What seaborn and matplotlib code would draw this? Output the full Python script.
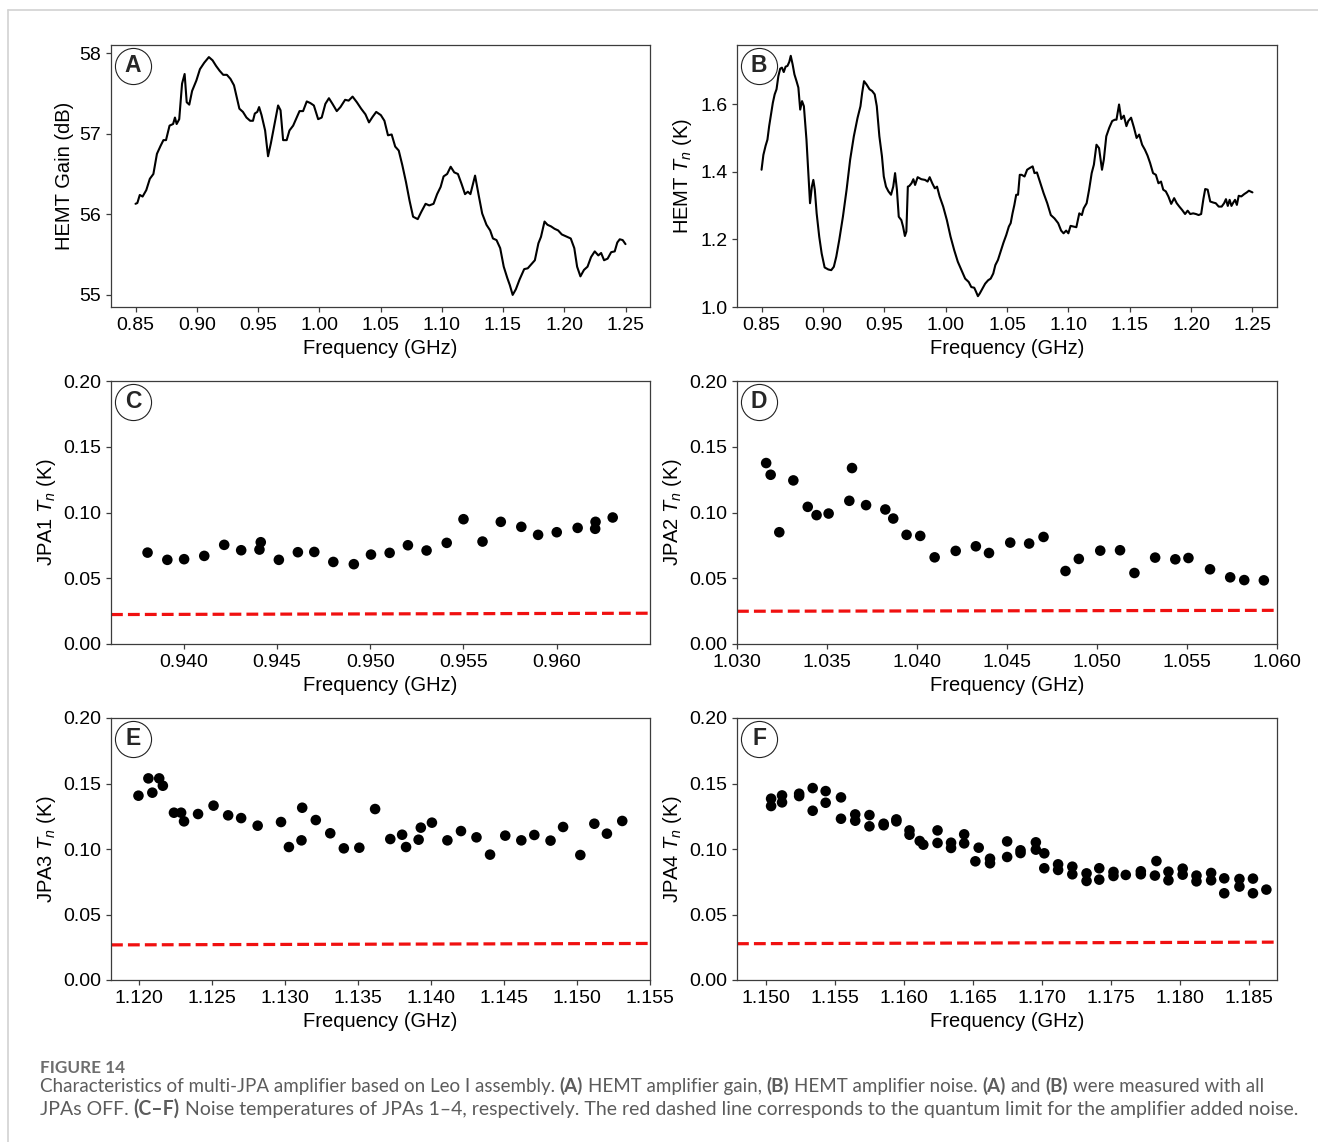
import matplotlib
matplotlib.use("Agg")
import matplotlib.pyplot as plt
import seaborn as sns
import numpy as np
from matplotlib.lines import Line2D
from matplotlib.transforms import IdentityTransform
from matplotlib.ticker import FormatStrFormatter

# ---------------------------------------------------------------- data
# (A) HEMT gain versus frequency
gain_freq = [0.8500, 0.8515, 0.8535, 0.8558, 0.8588, 0.8617, 0.8646, 0.8675, 0.8705, 0.8728,
             0.8749, 0.8778, 0.8807, 0.8822, 0.8836, 0.8857, 0.8880, 0.8901, 0.8918, 0.8939,
             0.8962, 0.8997, 0.9026, 0.9061, 0.9099, 0.9129, 0.9158, 0.9187, 0.9216, 0.9246,
             0.9275, 0.9304, 0.9348, 0.9377, 0.9406, 0.9436, 0.9459, 0.9474, 0.9494, 0.9509,
             0.9529, 0.9558, 0.9582, 0.9605, 0.9635, 0.9664, 0.9684, 0.9705, 0.9734, 0.9757,
             0.9787, 0.9816, 0.9839, 0.9868, 0.9898, 0.9927, 0.9956, 0.9991, 1.0020, 1.0050,
             1.0079, 1.0108, 1.0143, 1.0173, 1.0211, 1.0240, 1.0272, 1.0307, 1.0342, 1.0377,
             1.0406, 1.0436, 1.0465, 1.0503, 1.0532, 1.0561, 1.0591, 1.0620, 1.0649, 1.0678,
             1.0708, 1.0737, 1.0766, 1.0804, 1.0833, 1.0868, 1.0898, 1.0933, 1.0962, 1.0991,
             1.1015, 1.1044, 1.1073, 1.1102, 1.1132, 1.1161, 1.1190, 1.1213, 1.1234, 1.1272,
             1.1301, 1.1330, 1.1365, 1.1395, 1.1418, 1.1447, 1.1477, 1.1506, 1.1535, 1.1556,
             1.1579, 1.1605, 1.1635, 1.1673, 1.1702, 1.1731, 1.1760, 1.1789, 1.1810, 1.1839,
             1.1863, 1.1892, 1.1921, 1.1950, 1.1980, 1.2009, 1.2053, 1.2082, 1.2105, 1.2132,
             1.2161, 1.2190, 1.2219, 1.2249, 1.2278, 1.2301, 1.2325, 1.2354, 1.2383, 1.2412,
             1.2433, 1.2453, 1.2477, 1.2500]
gain_db = [56.13, 56.14, 56.24, 56.22, 56.30, 56.44, 56.50, 56.75, 56.85, 56.92,
           56.92, 57.10, 57.12, 57.20, 57.12, 57.18, 57.62, 57.74, 57.39, 57.36,
           57.53, 57.66, 57.80, 57.88, 57.95, 57.91, 57.84, 57.78, 57.73, 57.73,
           57.68, 57.60, 57.31, 57.27, 57.20, 57.16, 57.16, 57.25, 57.27, 57.33,
           57.23, 57.04, 56.72, 56.88, 57.12, 57.35, 57.29, 56.92, 56.92, 57.04,
           57.10, 57.20, 57.28, 57.28, 57.40, 57.38, 57.35, 57.18, 57.20, 57.37,
           57.44, 57.37, 57.28, 57.33, 57.42, 57.41, 57.46, 57.39, 57.31, 57.24,
           57.14, 57.21, 57.27, 57.23, 57.16, 56.98, 56.99, 56.84, 56.79, 56.61,
           56.40, 56.17, 55.97, 55.94, 56.03, 56.13, 56.11, 56.13, 56.25, 56.34,
           56.47, 56.50, 56.59, 56.52, 56.50, 56.38, 56.25, 56.28, 56.25, 56.48,
           56.24, 56.01, 55.87, 55.80, 55.70, 55.68, 55.58, 55.35, 55.21, 55.12,
           55.00, 55.07, 55.19, 55.32, 55.33, 55.38, 55.43, 55.64, 55.72, 55.91,
           55.87, 55.85, 55.82, 55.80, 55.75, 55.73, 55.70, 55.58, 55.35, 55.23,
           55.31, 55.35, 55.47, 55.54, 55.49, 55.52, 55.43, 55.45, 55.53, 55.54,
           55.65, 55.69, 55.68, 55.63]

# (B) HEMT noise temperature versus frequency
hemt_freq = [0.8500, 0.8515, 0.8533, 0.8548, 0.8562, 0.8577, 0.8592, 0.8607, 0.8622, 0.8637,
             0.8652, 0.8666, 0.8681, 0.8696, 0.8711, 0.8726, 0.8738, 0.8753, 0.8768, 0.8785,
             0.8800, 0.8815, 0.8830, 0.8845, 0.8866, 0.8881, 0.8895, 0.8910, 0.8922, 0.8934,
             0.8949, 0.8970, 0.8990, 0.9014, 0.9044, 0.9068, 0.9089, 0.9109, 0.9133, 0.9163,
             0.9193, 0.9222, 0.9252, 0.9282, 0.9306, 0.9320, 0.9335, 0.9356, 0.9380, 0.9401,
             0.9422, 0.9439, 0.9460, 0.9481, 0.9496, 0.9514, 0.9534, 0.9555, 0.9573, 0.9588,
             0.9603, 0.9618, 0.9639, 0.9653, 0.9668, 0.9680, 0.9692, 0.9704, 0.9722, 0.9737,
             0.9751, 0.9772, 0.9802, 0.9832, 0.9853, 0.9870, 0.9891, 0.9912, 0.9930, 0.9951,
             0.9980, 1.0010, 1.0040, 1.0070, 1.0099, 1.0129, 1.0159, 1.0188, 1.0209, 1.0233,
             1.0248, 1.0263, 1.0278, 1.0299, 1.0322, 1.0346, 1.0367, 1.0388, 1.0405, 1.0426,
             1.0447, 1.0471, 1.0494, 1.0515, 1.0530, 1.0545, 1.0560, 1.0575, 1.0590, 1.0604,
             1.0619, 1.0643, 1.0664, 1.0685, 1.0709, 1.0724, 1.0744, 1.0768, 1.0798, 1.0828,
             1.0857, 1.0887, 1.0917, 1.0941, 1.0961, 1.0982, 1.1000, 1.1018, 1.1042, 1.1065,
             1.1089, 1.1110, 1.1125, 1.1149, 1.1169, 1.1190, 1.1208, 1.1229, 1.1250, 1.1274,
             1.1289, 1.1309, 1.1333, 1.1357, 1.1378, 1.1392, 1.1413, 1.1431, 1.1452, 1.1473,
             1.1488, 1.1511, 1.1535, 1.1556, 1.1577, 1.1601, 1.1624, 1.1645, 1.1666, 1.1690,
             1.1713, 1.1734, 1.1755, 1.1773, 1.1794, 1.1815, 1.1838, 1.1862, 1.1883, 1.1904,
             1.1927, 1.1951, 1.1972, 1.1993, 1.2017, 1.2040, 1.2061, 1.2082, 1.2100, 1.2115,
             1.2135, 1.2156, 1.2180, 1.2201, 1.2225, 1.2249, 1.2269, 1.2284, 1.2299, 1.2314,
             1.2329, 1.2344, 1.2358, 1.2373, 1.2388, 1.2409, 1.2433, 1.2454, 1.2471, 1.2500]
hemt_tn = [1.406, 1.450, 1.477, 1.495, 1.535, 1.569, 1.604, 1.629, 1.644, 1.683,
           1.705, 1.708, 1.695, 1.711, 1.713, 1.725, 1.743, 1.718, 1.688, 1.668,
           1.649, 1.584, 1.609, 1.594, 1.495, 1.396, 1.307, 1.356, 1.376, 1.347,
           1.277, 1.208, 1.158, 1.117, 1.111, 1.109, 1.119, 1.149, 1.198, 1.267,
           1.347, 1.436, 1.505, 1.559, 1.594, 1.634, 1.668, 1.658, 1.644, 1.639,
           1.629, 1.594, 1.505, 1.446, 1.386, 1.356, 1.342, 1.332, 1.356, 1.396,
           1.347, 1.267, 1.257, 1.238, 1.210, 1.223, 1.356, 1.358, 1.366, 1.378,
           1.361, 1.384, 1.378, 1.376, 1.371, 1.384, 1.366, 1.351, 1.356, 1.327,
           1.297, 1.257, 1.208, 1.168, 1.134, 1.109, 1.084, 1.074, 1.059, 1.057,
           1.045, 1.032, 1.040, 1.054, 1.069, 1.079, 1.084, 1.099, 1.124, 1.139,
           1.163, 1.190, 1.213, 1.238, 1.248, 1.277, 1.302, 1.332, 1.332, 1.391,
           1.391, 1.386, 1.406, 1.411, 1.416, 1.396, 1.398, 1.371, 1.337, 1.307,
           1.272, 1.262, 1.248, 1.226, 1.218, 1.226, 1.218, 1.240, 1.238, 1.236,
           1.277, 1.272, 1.292, 1.307, 1.347, 1.396, 1.421, 1.480, 1.470, 1.406,
           1.436, 1.505, 1.530, 1.550, 1.554, 1.554, 1.599, 1.556, 1.566, 1.535,
           1.550, 1.560, 1.530, 1.500, 1.510, 1.480, 1.465, 1.448, 1.426, 1.396,
           1.391, 1.366, 1.371, 1.347, 1.342, 1.327, 1.305, 1.322, 1.307, 1.297,
           1.287, 1.275, 1.285, 1.275, 1.277, 1.275, 1.272, 1.275, 1.319, 1.349,
           1.347, 1.312, 1.309, 1.307, 1.297, 1.297, 1.307, 1.319, 1.299, 1.317,
           1.299, 1.309, 1.317, 1.302, 1.329, 1.327, 1.334, 1.339, 1.344, 1.339]

# (C) JPA1 noise temperature
jpa1_freq = [0.93806, 0.93912, 0.94002, 0.94110, 0.94217, 0.94308, 0.94406, 0.94413, 0.94510, 0.94612,
             0.94700, 0.94802, 0.94912, 0.95004, 0.95104, 0.95202, 0.95302, 0.95410, 0.95500, 0.95602,
             0.95700, 0.95810, 0.95900, 0.96000, 0.96112, 0.96206, 0.96208, 0.96300]
jpa1_tn = [0.0695, 0.0640, 0.0645, 0.0670, 0.0754, 0.0713, 0.0718, 0.0774, 0.0640, 0.0698,
           0.0700, 0.0624, 0.0607, 0.0680, 0.0693, 0.0751, 0.0711, 0.0769, 0.0949, 0.0779,
           0.0929, 0.0891, 0.0830, 0.0850, 0.0883, 0.0876, 0.0929, 0.0962]

# (D) JPA2 noise temperature
jpa2_freq = [1.03162, 1.03187, 1.03235, 1.03313, 1.03393, 1.03442, 1.03509, 1.03624, 1.03639, 1.03717,
             1.03824, 1.03868, 1.03942, 1.04018, 1.04098, 1.04215, 1.04327, 1.04400, 1.04518, 1.04623,
             1.04703, 1.04825, 1.04899, 1.05018, 1.05128, 1.05208, 1.05323, 1.05435, 1.05508, 1.05628,
             1.05740, 1.05818, 1.05927]
jpa2_tn = [0.1376, 0.1287, 0.0850, 0.1244, 0.1043, 0.0980, 0.0992, 0.1089, 0.1338, 0.1056,
           0.1023, 0.0954, 0.0830, 0.0822, 0.0659, 0.0708, 0.0743, 0.0692, 0.0771, 0.0764,
           0.0814, 0.0555, 0.0647, 0.0710, 0.0713, 0.0540, 0.0657, 0.0644, 0.0654, 0.0568,
           0.0507, 0.0486, 0.0484]

# (E) JPA3 noise temperature
jpa3_freq = [1.11998, 1.12066, 1.12093, 1.12140, 1.12165, 1.12241, 1.12290, 1.12310, 1.12406, 1.12512,
             1.12612, 1.12701, 1.12814, 1.12974, 1.13028, 1.13114, 1.13119, 1.13212, 1.13311, 1.13404,
             1.13510, 1.13618, 1.13722, 1.13803, 1.13830, 1.13916, 1.13931, 1.14007, 1.14113, 1.14206,
             1.14312, 1.14405, 1.14509, 1.14619, 1.14708, 1.14819, 1.14905, 1.15023, 1.15119, 1.15205,
             1.15310]
jpa3_tn = [0.1407, 0.1539, 0.1430, 0.1539, 0.1483, 0.1277, 0.1277, 0.1211, 0.1267, 0.1331,
           0.1257, 0.1236, 0.1178, 0.1206, 0.1015, 0.1066, 0.1315, 0.1221, 0.1120, 0.1005,
           0.1010, 0.1305, 0.1076, 0.1109, 0.1015, 0.1071, 0.1163, 0.1201, 0.1066, 0.1137,
           0.1089, 0.0957, 0.1102, 0.1066, 0.1107, 0.1064, 0.1168, 0.0954, 0.1193, 0.1117,
           0.1214]

# (F) JPA4 noise temperature
jpa4_freq = [1.15037, 1.15037, 1.15116, 1.15116, 1.15240, 1.15240, 1.15338, 1.15338, 1.15432, 1.15432,
             1.15543, 1.15543, 1.15646, 1.15646, 1.15749, 1.15749, 1.15852, 1.15852, 1.15944, 1.15944,
             1.16039, 1.16039, 1.16113, 1.16139, 1.16242, 1.16242, 1.16340, 1.16340, 1.16435, 1.16435,
             1.16540, 1.16516, 1.16622, 1.16622, 1.16746, 1.16746, 1.16843, 1.16843, 1.16954, 1.16954,
             1.17015, 1.17015, 1.17115, 1.17115, 1.17218, 1.17218, 1.17321, 1.17321, 1.17413, 1.17413,
             1.17516, 1.17516, 1.17605, 1.17714, 1.17714, 1.17827, 1.17816, 1.17914, 1.17914, 1.18017,
             1.18017, 1.18117, 1.18117, 1.18223, 1.18223, 1.18318, 1.18318, 1.18428, 1.18428, 1.18526,
             1.18526, 1.18623]
jpa4_tn = [0.1384, 0.1328, 0.1409, 0.1356, 0.1422, 0.1404, 0.1465, 0.1292, 0.1442, 0.1353,
           0.1394, 0.1231, 0.1264, 0.1216, 0.1259, 0.1173, 0.1193, 0.1181, 0.1226, 0.1211,
           0.1142, 0.1109, 0.1061, 0.1033, 0.1142, 0.1046, 0.1048, 0.1008, 0.1112, 0.1043,
           0.1010, 0.0906, 0.0926, 0.0891, 0.1058, 0.0939, 0.0990, 0.0969, 0.1051, 0.0995,
           0.0967, 0.0853, 0.0883, 0.0840, 0.0865, 0.0807, 0.0814, 0.0756, 0.0853, 0.0766,
           0.0825, 0.0794, 0.0802, 0.0830, 0.0807, 0.0908, 0.0797, 0.0827, 0.0761, 0.0850,
           0.0804, 0.0797, 0.0753, 0.0817, 0.0761, 0.0776, 0.0662, 0.0771, 0.0713, 0.0774,
           0.0662, 0.0690]

# Quantum limit (red dashed) at the two ends of each frequency window
ql_c_freq, ql_c_tn = [0.9361, 0.9650], [0.0224, 0.0234]
ql_d_freq, ql_d_tn = [1.0300, 1.0600], [0.0249, 0.0256]
ql_e_freq, ql_e_tn = [1.1181, 1.1550], [0.0268, 0.0279]
ql_f_freq, ql_f_tn = [1.1479, 1.1870], [0.0277, 0.0289]

# Axis ticks
hemt_xticks = [0.85, 0.90, 0.95, 1.00, 1.05, 1.10, 1.15, 1.20, 1.25]
gain_yticks = [55, 56, 57, 58]
hemt_yticks = [1.0, 1.2, 1.4, 1.6]
jpa_yticks = [0.00, 0.05, 0.10, 0.15, 0.20]
jpa1_xticks = [0.940, 0.945, 0.950, 0.955, 0.960]
jpa2_xticks = [1.030, 1.035, 1.040, 1.045, 1.050, 1.055, 1.060]
jpa3_xticks = [1.120, 1.125, 1.130, 1.135, 1.140, 1.145, 1.150, 1.155]
jpa4_xticks = [1.150, 1.155, 1.160, 1.165, 1.170, 1.175, 1.180, 1.185]

# ---------------------------------------------------------------- style
sns.set_style("ticks")
plt.rcParams.update({
    "font.family": ["Liberation Sans", "DejaVu Sans"],
    "mathtext.fontset": "custom",
    "mathtext.rm": "Liberation Sans",
    "mathtext.it": "Liberation Sans:italic",
    "font.size": 14,
    "axes.labelsize": 14.5,
    "xtick.labelsize": 14,
    "ytick.labelsize": 14,
    "axes.edgecolor": "#3c3c3c",
    "axes.linewidth": 0.9,
    "xtick.color": "#3c3c3c",
    "ytick.color": "#3c3c3c",
    "xtick.labelcolor": "black",
    "ytick.labelcolor": "black",
    "xtick.major.size": 3.5,
    "ytick.major.size": 3.5,
    "xtick.major.width": 0.9,
    "ytick.major.width": 0.9,
    "axes.labelcolor": "black",
})

W, H = 1318, 1142
fig = plt.figure(figsize=(W / 100, H / 100), dpi=100)


def px_axes(left, top, right, bottom):
    return fig.add_axes([left / W, 1 - bottom / H, (right - left) / W, (bottom - top) / H])


ax_a = px_axes(111, 45, 650, 307)
ax_b = px_axes(737, 45, 1277, 307)
ax_c = px_axes(111, 381, 650, 644)
ax_d = px_axes(737, 381, 1277, 644)
ax_e = px_axes(111, 718, 650, 980)
ax_f = px_axes(737, 718, 1277, 980)


def panel_letter(ax, letter):
    ax.plot([0.0408], [0.921], marker="o", ms=26, mfc="white", mec="#222222",
            mew=0.8, transform=ax.transAxes, clip_on=False, zorder=5)
    ax.text(0.0408, 0.921, letter, transform=ax.transAxes, ha="center",
            va="center", fontsize=16.5, fontweight="bold", zorder=6)


def finish(ax, letter, ylabel, xticks, xfmt, yticks, yfmt, xlim, ylim):
    ax.set_xlim(*xlim)
    ax.set_ylim(*ylim)
    ax.set_xticks(xticks)
    ax.set_yticks(yticks)
    ax.xaxis.set_major_formatter(FormatStrFormatter(xfmt))
    ax.yaxis.set_major_formatter(FormatStrFormatter(yfmt))
    ax.set_xlabel("Frequency (GHz)")
    ax.set_ylabel(ylabel)
    for s in ax.spines.values():
        s.set_visible(True)
    panel_letter(ax, letter)


# (A) gain
sns.lineplot(x=gain_freq, y=gain_db, ax=ax_a, color="black", lw=1.5, estimator=None)
finish(ax_a, "A", "HEMT Gain (dB)", hemt_xticks, "%.2f", gain_yticks, "%d",
       (0.83, 1.27), (54.85, 58.10))

# (B) HEMT noise
sns.lineplot(x=hemt_freq, y=hemt_tn, ax=ax_b, color="black", lw=1.5, estimator=None)
finish(ax_b, "B", r"HEMT $T_n$ (K)", hemt_xticks, "%.2f", hemt_yticks, "%.1f",
       (0.83, 1.27), (1.0, 1.775))

# (C-F) JPA noise temperatures with the quantum limit
jpa_panels = [
    (ax_c, "C", "JPA1", jpa1_freq, jpa1_tn, ql_c_freq, ql_c_tn, jpa1_xticks, (0.9361, 0.9650)),
    (ax_d, "D", "JPA2", jpa2_freq, jpa2_tn, ql_d_freq, ql_d_tn, jpa2_xticks, (1.0300, 1.0600)),
    (ax_e, "E", "JPA3", jpa3_freq, jpa3_tn, ql_e_freq, ql_e_tn, jpa3_xticks, (1.1181, 1.1550)),
    (ax_f, "F", "JPA4", jpa4_freq, jpa4_tn, ql_f_freq, ql_f_tn, jpa4_xticks, (1.1479, 1.1870)),
]
for ax, letter, name, fq, tn, qf, qt, xt, xl in jpa_panels:
    sns.lineplot(x=qf, y=qt, ax=ax, color="#f01010", lw=2.3, linestyle="--",
                 estimator=None, zorder=2)
    sns.scatterplot(x=fq, y=tn, ax=ax, color="black", s=58, edgecolor="none",
                    linewidth=0, zorder=3)
    finish(ax, letter, name + r" $T_n$ (K)", xt, "%.3f", jpa_yticks, "%.2f",
           xl, (0.0, 0.2))

# ---------------------------------------------------------------- frame and caption
frame_col = "#d2d2d2"
fig.add_artist(Line2D([7.5 / W, 1.0], [1 - 9.5 / H, 1 - 9.5 / H], color=frame_col,
                      lw=1.2, transform=fig.transFigure))
fig.add_artist(Line2D([7.5 / W, 7.5 / W], [0.0, 1 - 9.5 / H], color=frame_col,
                      lw=1.2, transform=fig.transFigure))

cap_family = ["Lato", "DejaVu Sans"]
cap_color = "#5c5c5c"
renderer = fig.canvas.get_renderer()
ident = IdentityTransform()

line1 = [("Characteristics of multi-JPA amplifier based on Leo I assembly.", False),
         ("(A)", True), ("HEMT amplifier gain,", False), ("(B)", True),
         ("HEMT amplifier noise.", False), ("(A)", True), ("and", False), ("(B)", True),
         ("were measured with all", False)]
line2 = [("JPAs OFF.", False), ("(C\u2013F)", True),
         ("Noise temperatures of JPAs 1\u20134, respectively. The red dashed line corresponds "
          "to the quantum limit for the amplifier added noise.", False)]


def text_width(s, size, bold):
    t = fig.text(0, 0, s, fontsize=size, family=cap_family,
                 fontweight="bold" if bold else "normal", transform=ident)
    w = t.get_window_extent(renderer).width
    t.remove()
    return w


def line_width(parts, size):
    sp = text_width("x x", size, False) - text_width("xx", size, False)
    return sum(text_width(s, size, b) for s, b in parts) + sp * (len(parts) - 1)


def draw_line(parts, x0, y_top, size):
    sp = text_width("x x", size, False) - text_width("xx", size, False)
    x = x0
    for s, b in parts:
        t = fig.text(x, H - y_top, s, fontsize=size, family=cap_family, color=cap_color,
                     fontweight="bold" if b else "normal", transform=ident, va="baseline")
        x += t.get_window_extent(renderer).width + sp


size1 = 12.0 * 1217.0 / line_width(line1, 12.0)
size2 = 12.0 * 1257.0 / line_width(line2, 12.0)
draw_line(line1, 40, 1092, size1)
draw_line(line2, 40, 1115, size2)
fig.text(40, H - 1073, "FIGURE 14", fontsize=12.3, family=cap_family, color="#6e6e6e",
         fontweight="bold", transform=ident, va="baseline")

fig.savefig("out.png", dpi=100)
